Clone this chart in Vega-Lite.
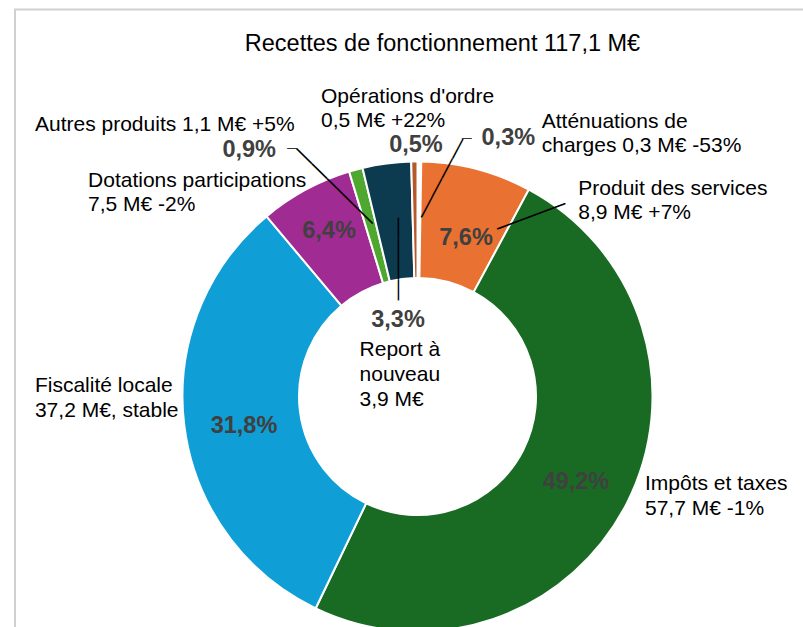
{
  "$schema": "https://vega.github.io/schema/vega-lite/v6.json",
  "width": 805,
  "height": 774,
  "autosize": "none",
  "padding": {"left": 15, "top": 9.5, "right": 0, "bottom": 0},
  "background": "#ffffff",
  "view": {"stroke": "#d0d0d0", "strokeWidth": 2, "fill": "#ffffff"},
  "config": {"view": {"stroke": "#d0d0d0", "strokeWidth": 2}},
  "title": {
    "text": "Recettes de fonctionnement 117,1 M€",
    "font": "Liberation Sans",
    "fontSize": 23.5,
    "fontWeight": "normal",
    "color": "#000000",
    "anchor": "middle",
    "frame": "group",
    "baseline": "alphabetic",
    "offset": 0,
    "dx": 25,
    "dy": 65
  },
  "data": {
    "values": [
      {"rang": 1, "cat": "Atténuations de charges", "value": 0.3, "pct": "0,3%", "label": "Atténuations de\ncharges 0,3 M€ -53%"},
      {"rang": 2, "cat": "Produit des services", "value": 8.9, "pct": "7,6%", "label": "Produit des services\n8,9 M€ +7%"},
      {"rang": 3, "cat": "Impôts et taxes", "value": 57.7, "pct": "49,2%", "label": "Impôts et taxes\n57,7 M€ -1%"},
      {"rang": 4, "cat": "Fiscalité locale", "value": 37.2, "pct": "31,8%", "label": "Fiscalité locale\n37,2 M€, stable"},
      {"rang": 5, "cat": "Dotations participations", "value": 7.5, "pct": "6,4%", "label": "Dotations participations\n7,5 M€ -2%"},
      {"rang": 6, "cat": "Autres produits", "value": 1.1, "pct": "0,9%", "label": "Autres produits 1,1 M€ +5%"},
      {"rang": 7, "cat": "Report à nouveau", "value": 3.9, "pct": "3,3%", "label": "Report à\nnouveau\n3,9 M€"},
      {"rang": 8, "cat": "Opérations d'ordre", "value": 0.5, "pct": "0,5%", "label": "Opérations d'ordre\n0,5 M€ +22%"}
    ]
  },
  "encoding": {
    "theta": {"field": "value", "type": "quantitative", "stack": true},
    "order": {"field": "rang", "type": "quantitative"}
  },
  "layer": [
    {
      "mark": {"type": "arc", "outerRadius": 235, "innerRadius": 118.5, "stroke": "#ffffff", "strokeWidth": 2},
      "encoding": {
        "color": {
          "field": "cat", "type": "nominal", "legend": null,
          "scale": {
            "domain": ["Atténuations de charges", "Produit des services", "Impôts et taxes", "Fiscalité locale", "Dotations participations", "Autres produits", "Report à nouveau", "Opérations d'ordre"],
            "range": ["#ffffff", "#E97132", "#196B24", "#0F9ED5", "#A02B93", "#4EA72E", "#0C3A4E", "#B5582A"]
          }
        }
      }
    },
    {"mark": {"type": "text", "radius": 177, "dx": 3.9, "dy": 19.8, "align": "center", "baseline": "alphabetic", "font": "Liberation Sans", "fontSize": 23.5, "fontWeight": "bold", "color": "#404040"},
     "encoding": {"text": {"condition": {"test": "datum.rang === 2", "field": "pct"}, "value": ""}}},
    {"mark": {"type": "text", "radius": 177, "dx": 0.7, "dy": 12.6, "align": "center", "baseline": "alphabetic", "font": "Liberation Sans", "fontSize": 23.5, "fontWeight": "bold", "color": "#404040"},
     "encoding": {"text": {"condition": {"test": "datum.rang === 3", "field": "pct"}, "value": ""}}},
    {"mark": {"type": "text", "radius": 177, "dx": 2.1, "dy": 14.4, "align": "center", "baseline": "alphabetic", "font": "Liberation Sans", "fontSize": 23.5, "fontWeight": "bold", "color": "#404040"},
     "encoding": {"text": {"condition": {"test": "datum.rang === 4", "field": "pct"}, "value": ""}}},
    {"mark": {"type": "text", "radius": 177, "dx": -4.2, "dy": -3, "align": "center", "baseline": "alphabetic", "font": "Liberation Sans", "fontSize": 23.5, "fontWeight": "bold", "color": "#404040"},
     "encoding": {"text": {"condition": {"test": "datum.rang === 5", "field": "pct"}, "value": ""}}},
    {"mark": {"type": "text", "radius": 250, "dx": 1.8, "dy": 5.2, "align": "center", "baseline": "alphabetic", "font": "Liberation Sans", "fontSize": 23.5, "fontWeight": "bold", "color": "#404040"},
     "encoding": {"text": {"condition": {"test": "datum.rang === 8", "field": "pct"}, "value": ""}}},
    {"mark": {"type": "text", "radius": 250, "dx": 88.8, "dy": -1.5, "align": "center", "baseline": "alphabetic", "font": "Liberation Sans", "fontSize": 23.5, "fontWeight": "bold", "color": "#404040"},
     "encoding": {"text": {"condition": {"test": "datum.rang === 1", "field": "pct"}, "value": ""}}},
    {"mark": {"type": "text", "radius": 250, "dx": -102.7, "dy": 1.4, "align": "center", "baseline": "alphabetic", "font": "Liberation Sans", "fontSize": 23.5, "fontWeight": "bold", "color": "#404040"},
     "encoding": {"text": {"condition": {"test": "datum.rang === 6", "field": "pct"}, "value": ""}}},
    {"mark": {"type": "text", "radius": 80, "dx": -9, "dy": 10.3, "align": "center", "baseline": "alphabetic", "font": "Liberation Sans", "fontSize": 23.5, "fontWeight": "bold", "color": "#404040"},
     "encoding": {"text": {"condition": {"test": "datum.rang === 7", "field": "pct"}, "value": ""}}},
    {"mark": {"type": "text", "radius": 250, "dx": -93.2, "dy": -43.8, "align": "left", "baseline": "alphabetic", "font": "Liberation Sans", "fontSize": 21, "lineHeight": 24, "lineBreak": "\n", "color": "#000000"},
     "encoding": {"text": {"condition": {"test": "datum.rang === 8", "field": "label"}, "value": ""}}},
    {"mark": {"type": "text", "radius": 250, "dx": 122.2, "dy": -19, "align": "left", "baseline": "alphabetic", "font": "Liberation Sans", "fontSize": 21, "lineHeight": 24.5, "lineBreak": "\n", "color": "#000000"},
     "encoding": {"text": {"condition": {"test": "datum.rang === 1", "field": "label"}, "value": ""}}},
    {"mark": {"type": "text", "radius": 250, "dx": 97.8, "dy": 40.4, "align": "left", "baseline": "alphabetic", "font": "Liberation Sans", "fontSize": 21, "lineHeight": 24.5, "lineBreak": "\n", "color": "#000000"},
     "encoding": {"text": {"condition": {"test": "datum.rang === 2", "field": "label"}, "value": ""}}},
    {"mark": {"type": "text", "radius": 250, "dx": 4.7, "dy": -19.9, "align": "left", "baseline": "alphabetic", "font": "Liberation Sans", "fontSize": 21, "lineHeight": 24.5, "lineBreak": "\n", "color": "#000000"},
     "encoding": {"text": {"condition": {"test": "datum.rang === 3", "field": "label"}, "value": ""}}},
    {"mark": {"type": "text", "radius": 250, "dx": -134.5, "dy": -35.3, "align": "left", "baseline": "alphabetic", "font": "Liberation Sans", "fontSize": 21, "lineHeight": 25, "lineBreak": "\n", "color": "#000000"},
     "encoding": {"text": {"condition": {"test": "datum.rang === 4", "field": "label"}, "value": ""}}},
    {"mark": {"type": "text", "radius": 250, "dx": -210.4, "dy": 10.6, "align": "left", "baseline": "alphabetic", "font": "Liberation Sans", "fontSize": 21, "lineHeight": 24, "lineBreak": "\n", "color": "#000000"},
     "encoding": {"text": {"condition": {"test": "datum.rang === 5", "field": "label"}, "value": ""}}},
    {"mark": {"type": "text", "radius": 250, "dx": -316.9, "dy": -24.6, "align": "left", "baseline": "alphabetic", "font": "Liberation Sans", "fontSize": 21, "lineHeight": 24, "lineBreak": "\n", "color": "#000000"},
     "encoding": {"text": {"condition": {"test": "datum.rang === 6", "field": "label"}, "value": ""}}},
    {"mark": {"type": "text", "radius": 60, "dx": -50.1, "dy": 19, "align": "left", "baseline": "alphabetic", "font": "Liberation Sans", "fontSize": 21, "lineHeight": 25, "lineBreak": "\n", "color": "#000000"},
     "encoding": {"text": {"condition": {"test": "datum.rang === 7", "field": "label"}, "value": ""}}},
    {"mark": {"type": "text", "radius": 250, "dx": -59.9, "dy": -7, "align": "center", "baseline": "middle", "font": "Liberation Sans", "fontSize": 10, "color": "#000000"},
     "encoding": {"text": {"condition": {"test": "datum.rang === 6", "value": "—"}, "value": ""}}},
    {"mark": {"type": "text", "radius": 250, "angle": 44.5, "dx": 9.43, "dy": 33.5, "align": "center", "baseline": "middle", "font": "Liberation Sans", "fontSize": 21.4, "color": "#000000"},
     "encoding": {"text": {"condition": {"test": "datum.rang === 6", "value": "—————"}, "value": ""}}},
    {"mark": {"type": "text", "radius": 250, "dx": 47.2, "dy": -8.2, "align": "center", "baseline": "middle", "font": "Liberation Sans", "fontSize": 10, "color": "#000000"},
     "encoding": {"text": {"condition": {"test": "datum.rang === 1", "value": "—"}, "value": ""}}},
    {"mark": {"type": "text", "radius": 250, "angle": -62, "dx": -17.35, "dy": 33.4, "align": "center", "baseline": "middle", "font": "Liberation Sans", "fontSize": 22.2, "color": "#000000"},
     "encoding": {"text": {"condition": {"test": "datum.rang === 1", "value": "————"}, "value": ""}}},
    {"mark": {"type": "text", "radius": 250, "angle": -20.55, "dx": 25.77, "dy": 74.7, "align": "center", "baseline": "middle", "font": "Liberation Sans", "fontSize": 24.3, "color": "#000000"},
     "encoding": {"text": {"condition": {"test": "datum.rang === 2", "value": "———"}, "value": ""}}},
    {"mark": {"type": "text", "radius": 80, "angle": 90, "dx": -58.1, "dy": 8.4, "align": "center", "baseline": "middle", "font": "Liberation Sans", "fontSize": 20.7, "color": "#000000"},
     "encoding": {"text": {"condition": {"test": "datum.rang === 7", "value": "————"}, "value": ""}}}
  ]
}
